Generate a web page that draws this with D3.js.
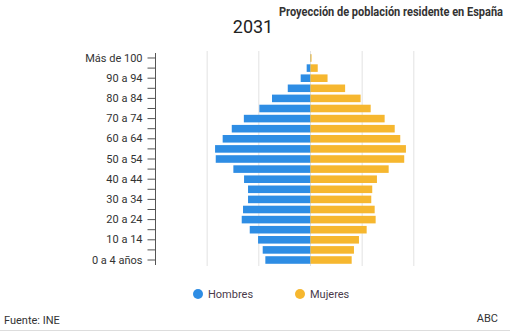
<!DOCTYPE html>
<html><head><meta charset="utf-8">
<script src="https://cdn.jsdelivr.net/npm/d3@7"></script>
<style>body{margin:0;background:#fff;font-family:Roboto,"Noto Sans",sans-serif}</style>
</head><body><div id="chart"></div>
<script>
const categories = ["0 a 4 años","5 a 9","10 a 14","15 a 19","20 a 24","25 a 29","30 a 34","35 a 39","40 a 44","45 a 49","50 a 54","55 a 59","60 a 64","65 a 69","70 a 74","75 a 79","80 a 84","85 a 89","90 a 94","95 a 99","Más de 100"];
const hombres = [0.874,0.925,1.015,1.176,1.331,1.306,1.209,1.209,1.286,1.493,1.834,1.847,1.70,1.524,1.29,0.99,0.745,0.44,0.19,0.074,0.006];
const mujeres = [0.797,0.841,0.938,1.087,1.261,1.242,1.176,1.195,1.286,1.513,1.814,1.847,1.737,1.63,1.435,1.165,0.97,0.67,0.33,0.14,0.02];
const gridTicks = [-2,-1,0,1,2];
const shownLabels = ["Más de 100","90 a 94","80 a 84","70 a 74","60 a 64","50 a 54","40 a 44","30 a 34","20 a 24","10 a 14","0 a 4 años"];
const seriesNames = ["Hombres","Mujeres"];
const colors = ["#2e8de4","#f6b72f"];

const W=510,H=331;
const svg=d3.select("#chart").append("svg").attr("width",W).attr("height",H);
const x=d3.scaleLinear().domain([-3,3]).range([155.5,465.5]);
const y=d3.scaleBand().domain(categories.slice().reverse()).range([53,265]).paddingInner(0.25).paddingOuter(0.12);

// grid
svg.append("g").selectAll("line").data(gridTicks).join("line")
 .attr("x1",d=>x(d)).attr("x2",d=>x(d)).attr("y1",51).attr("y2",266)
 .attr("stroke","#e2e2e2").attr("stroke-width",1);

// bars
const rows=categories.map((c,i)=>({c,h:hombres[i],m:mujeres[i]}));
svg.append("g").selectAll("rect").data(rows).join("rect")
 .attr("x",d=>x(-d.h)).attr("width",d=>x(0)-x(-d.h))
 .attr("y",d=>y(d.c)).attr("height",y.bandwidth()).attr("fill",colors[0]);
svg.append("g").selectAll("rect").data(rows).join("rect")
 .attr("x",x(0)).attr("width",d=>Math.max(1,x(d.m)-x(0)))
 .attr("y",d=>y(d.c)).attr("height",y.bandwidth()).attr("fill",colors[1]);

// axis
const ax=svg.append("g").attr("transform",`translate(${x(-3)},0)`)
 .call(d3.axisLeft(y).tickSize(8).tickPadding(5).tickFormat(d=>shownLabels.includes(d)?d:""));
ax.select(".domain").attr("stroke","#555").attr("d",`M-0,53V265`);
ax.selectAll(".tick line").attr("stroke","#555");
ax.selectAll(".tick text").attr("fill","#333").style("font-size","11px").style("font-family","Roboto,sans-serif");

// titles
svg.append("text").attr("x",503).attr("y",16).attr("text-anchor","end")
 .attr("textLength",224).attr("lengthAdjust","spacingAndGlyphs")
 .style("font-weight","bold").style("font-size","12.5px").attr("fill","#333")
 .text("Proyección de población residente en España");
svg.append("text").attr("x",253).attr("y",33).attr("text-anchor","middle")
 .style("font-size","18px").attr("fill","#222").text("2031");

// legend
const lx=[198,300];
seriesNames.forEach((n,i)=>{
 svg.append("circle").attr("cx",lx[i]).attr("cy",294).attr("r",5).attr("fill",colors[i]);
 svg.append("text").attr("x",lx[i]+10).attr("y",298).style("font-size","11px").attr("fill","#4a3a4a").text(n);
});

// footer
svg.append("text").attr("x",4).attr("y",324).style("font-size","11px").attr("fill","#333").text("Fuente: INE");
svg.append("text").attr("x",498).attr("y",322).attr("text-anchor","end").style("font-size","11px").attr("fill","#333").text("ABC");
svg.append("line").attr("x1",0).attr("x2",W).attr("y1",330.5).attr("y2",330.5).attr("stroke","#ddd");
</script></body></html>
